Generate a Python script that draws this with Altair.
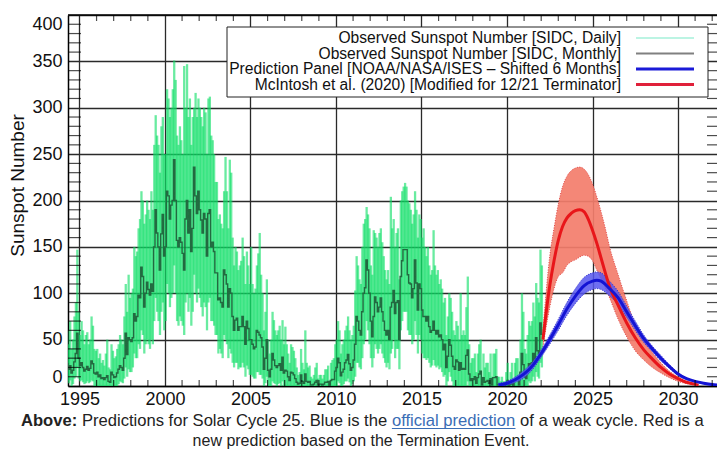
import altair as alt
import pandas as pd

FONT = "Liberation Sans, Arial, Helvetica, sans-serif"

# ---------------- observed data (monthly, starting 1994-04) ----------------
START_YEAR, START_MONTH = 1994, 4

MONTHLY = [
    24, 18, 22, 14, 17, 26, 35, 57, 30,                      # 1994 Apr-Dec
    22, 25, 20, 16, 18, 21, 17, 19, 27, 24, 14, 13,          # 1995
    15, 10, 12, 8, 9, 7, 9, 11, 5, 4, 15, 12,                # 1996
    9, 10, 14, 18, 22, 20, 17, 30, 57, 34, 52, 50,           # 1997
    48, 52, 78, 70, 75, 98, 95, 128, 118, 85, 100, 112,      # 1998
    104, 98, 110, 102, 150, 190, 165, 150, 125, 164, 185, 140,  # 1999
    150, 210, 205, 180, 195, 200, 244, 200, 157, 150, 160, 155,  # 2000
    143, 125, 180, 200, 165, 190, 145, 170, 236, 205, 186, 210,  # 2001
    190, 179, 165, 186, 180, 140, 186, 190, 150, 155, 145, 122,  # 2002
    122, 93, 95, 90, 85, 125, 120, 110, 85, 105, 100, 75,    # 2003
    60, 71, 73, 60, 64, 64, 75, 64, 45, 70, 62, 50,          # 2004
    50, 45, 40, 42, 60, 58, 55, 52, 42, 18, 30, 50,          # 2005
    17, 10, 18, 35, 28, 22, 20, 22, 24, 17, 31, 14,          # 2006
    17, 16, 10, 6, 15, 14, 12, 8, 4, 2, 3, 12,               # 2007
    5, 3, 13, 5, 4, 5, 1, 1, 2, 4, 6, 1,                     # 2008
    2, 2, 1, 2, 4, 4, 5, 0, 6, 7, 7, 16,                     # 2009
    20, 30, 25, 11, 15, 18, 25, 28, 34, 24, 17, 20,          # 2010
    28, 45, 75, 70, 60, 55, 80, 100, 106, 136, 125, 100,     # 2011
    70, 53, 75, 96, 90, 80, 85, 95, 80, 70, 60, 55,          # 2012
    60, 50, 85, 90, 103, 78, 90, 92, 50, 118, 135, 147,      # 2013
    147, 147, 120, 111, 110, 95, 105, 136, 111, 82, 110, 105,  # 2014
    82, 75, 75, 70, 75, 64, 58, 60, 70, 60, 56, 60,          # 2015
    53, 55, 50, 39, 45, 20, 32, 50, 44, 32, 21, 18,          # 2016
    28, 26, 17, 25, 18, 19, 18, 33, 39, 13, 6, 8,            # 2017
    7, 10, 3, 9, 13, 16, 1, 9, 4, 5, 6, 3,                   # 2018
    8, 1, 9, 9, 10, 1, 1, 0, 1, 0, 0, 2,                     # 2019
    6, 0, 2, 5, 0, 6, 7, 8, 1, 15, 35, 23,                   # 2020
    10, 8, 17, 24, 21, 25, 35, 24, 52, 38, 35, 68,           # 2021
    55,                                                      # 2022 Jan
]

DAILY_MAX = [
    60, 45, 70, 40, 50, 75, 90, 147, 80,
    55, 70, 60, 45, 55, 58, 45, 50, 75, 65, 40, 38,
    40, 30, 35, 25, 28, 22, 35, 50, 20, 18, 45, 38,
    30, 32, 40, 45, 55, 50, 45, 75, 110, 80, 120, 95,
    100, 105, 150, 140, 145, 170, 180, 210, 200, 175, 185, 200,
    190, 180, 210, 190, 260, 292, 270, 260, 230, 280, 290, 250,
    250, 320, 310, 290, 300, 320, 351, 330, 270, 260, 280, 265,
    250, 345, 300, 347, 290, 310, 260, 290, 300, 316, 290, 310,
    300, 290, 280, 300, 295, 250, 310, 312, 270, 265, 250, 220,
    220, 180, 185, 175, 170, 210, 247, 210, 170, 244, 230, 160,
    130, 150, 145, 125, 130, 135, 160, 140, 110, 145, 130, 110,
    150, 110, 100, 105, 130, 143, 165, 120, 100, 60, 80, 115,
    50, 35, 50, 80, 71, 60, 55, 60, 65, 50, 71, 45,
    64, 45, 35, 25, 45, 42, 38, 30, 20, 12, 15, 40,
    25, 18, 60, 25, 20, 22, 10, 8, 12, 20, 25, 8,
    12, 12, 8, 12, 18, 18, 22, 5, 25, 28, 30, 45,
    50, 70, 60, 35, 45, 50, 60, 65, 75, 60, 50, 55,
    65, 103, 140, 130, 115, 110, 150, 175, 180, 193, 185, 170,
    130, 120, 168, 165, 160, 150, 165, 170, 155, 140, 125, 115,
    125, 110, 204, 170, 180, 150, 165, 170, 115, 200, 210, 215,
    219, 215, 200, 197, 190, 175, 185, 210, 190, 160, 185, 180,
    160, 170, 150, 140, 150, 130, 120, 125, 168, 130, 120, 125,
    110, 115, 105, 90, 95, 55, 75, 100, 95, 80, 60, 55,
    70, 65, 50, 100, 55, 60, 55, 85, 118, 45, 25, 30,
    30, 35, 15, 35, 45, 50, 10, 35, 20, 25, 25, 15,
    35, 10, 35, 35, 40, 10, 10, 5, 10, 5, 5, 15,
    25, 5, 15, 25, 5, 25, 30, 30, 12, 50, 100, 80,
    40, 35, 55, 70, 65, 70, 90, 75, 111, 95, 90, 147,
    130,
]

DAILY_MIN = [
    5, 3, 6, 0, 2, 8, 10, 20, 8,
    5, 6, 4, 2, 3, 5, 3, 4, 6, 5, 0, 0,
    0, 0, 0, 0, 0, 0, 0, 0, 0, 0, 0, 0,
    0, 0, 0, 2, 5, 4, 3, 8, 20, 10, 18, 15,
    15, 20, 35, 30, 30, 45, 40, 60, 55, 35, 45, 50,
    45, 40, 50, 45, 70, 95, 80, 70, 55, 80, 90, 60,
    70, 110, 100, 85, 95, 100, 130, 100, 70, 65, 75, 70,
    65, 55, 90, 100, 80, 95, 65, 80, 120, 100, 90, 105,
    95, 85, 75, 90, 85, 60, 90, 95, 70, 70, 65, 55,
    55, 35, 40, 35, 30, 55, 50, 45, 30, 40, 35, 25,
    20, 25, 25, 18, 20, 20, 25, 20, 10, 22, 18, 12,
    12, 10, 8, 8, 15, 15, 12, 12, 8, 0, 3, 10,
    0, 0, 0, 5, 3, 2, 0, 2, 3, 0, 5, 0,
    0, 0, 0, 0, 0, 0, 0, 0, 0, 0, 0, 0,
    0, 0, 0, 0, 0, 0, 0, 0, 0, 0, 0, 0,
    0, 0, 0, 0, 0, 0, 0, 0, 0, 0, 0, 0,
    0, 5, 3, 0, 0, 2, 5, 5, 8, 4, 0, 2,
    5, 10, 25, 25, 20, 18, 30, 45, 50, 70, 60, 45,
    30, 20, 30, 45, 40, 35, 40, 45, 35, 30, 25, 20,
    25, 18, 35, 40, 50, 30, 40, 40, 18, 60, 70, 80,
    80, 80, 60, 55, 55, 45, 50, 70, 55, 35, 55, 50,
    35, 30, 30, 28, 30, 25, 20, 22, 28, 22, 20, 22,
    18, 20, 15, 10, 12, 0, 5, 15, 10, 5, 0, 0,
    0, 0, 0, 0, 0, 0, 0, 0, 5, 0, 0, 0,
    0, 0, 0, 0, 0, 0, 0, 0, 0, 0, 0, 0,
    0, 0, 0, 0, 0, 0, 0, 0, 0, 0, 0, 0,
    0, 0, 0, 0, 0, 0, 0, 0, 0, 0, 0, 0,
    0, 0, 0, 5, 3, 5, 10, 5, 15, 10, 8, 25,
    20,
]

# ---------------- predictions ----------------
BLUE_T = [2019.5, 2020.0, 2020.5, 2021.0, 2021.5, 2022.0, 2022.5, 2023.0, 2023.5,
          2024.0, 2024.5, 2025.0, 2025.25, 2025.5, 2026.0, 2026.5, 2027.0, 2027.5,
          2028.0, 2028.5, 2029.0, 2029.5, 2030.0, 2030.5, 2031.0, 2031.5, 2032.0, 2032.5]
BLUE_V = [1, 3, 7, 13, 22, 35, 50, 66, 83, 97, 108, 113, 114, 113, 105, 95, 80, 65,
          51, 40, 30, 21, 13, 8, 5, 3, 1.5, 0.8]
BLUE_LO = [0, 1, 4, 9, 18, 31, 45, 60, 76, 89, 99, 104, 105, 104, 97, 88, 74, 60,
           47, 37, 27, 19, 11.5, 7, 4.5, 2.6, 1.3, 0.7]
BLUE_HI = [3, 5, 10, 17, 26, 39, 55, 72, 90, 105, 117, 122, 123, 122, 113, 102, 86, 70,
           55, 43, 33, 23, 14.5, 9, 5.5, 3.4, 1.7, 0.9]

RED_T = [2022.1, 2022.5, 2022.75, 2023.0, 2023.25, 2023.5, 2023.75, 2024.0, 2024.25,
         2024.5, 2024.75, 2025.0, 2025.25, 2025.5, 2025.75, 2026.0, 2026.5, 2027.0,
         2027.5, 2028.0, 2028.5, 2029.0, 2029.5, 2030.0, 2030.5, 2031.0, 2031.2]
RED_V = [50, 108, 135, 157, 172, 181, 186, 189, 190, 188, 180, 168, 154, 138, 122,
         107, 87, 68, 52, 39, 29, 20, 13, 8, 4, 2, 1]
RED_LO = [42, 85, 105, 118, 122, 130, 134, 136, 139, 141, 140, 135, 125, 115, 106,
          95, 72, 53, 38, 28, 20, 14, 9, 5, 2.5, 1.2, 0.6]
RED_HI = [60, 140, 170, 196, 215, 226, 232, 235, 236, 234, 228, 218, 204, 188, 170,
          150, 120, 92, 66, 49, 36, 25, 16, 10, 5, 2.5, 1.3]

X_TICKS = [1995, 2000, 2005, 2010, 2015, 2020, 2025, 2030]
Y_TICKS = [0, 50, 100, 150, 200, 250, 300, 350, 400]
X_MINOR = [y for y in range(1995, 2033) if y % 5 != 0]
Y_MINOR = [v for v in range(10, 400, 10) if v % 50 != 0]

LEGEND_LABELS = [
    "Observed Sunspot Number [SIDC, Daily]",
    "Observed Sunspot Number [SIDC, Monthly]",
    "Prediction Panel [NOAA/NASA/ISES \u2013 Shifted 6 Months]",
    "McIntosh et al. (2020) [Modified for 12/21 Terminator]",
]
LEGEND_COLORS = ["#a6f0da", "#808080", "#1a1ad8", "#e0203a"]
LEGEND_WIDTHS = [1.5, 2, 3, 3]

CAPTION_1 = ["Above:", "Predictions for Solar Cycle 25. Blue is the",
             "official prediction", "of a weak cycle. Red is a"]
CAPTION_2 = "new prediction based on the Termination Event."

# ---------------- layout ----------------
W, H = 649, 371

n = len(MONTHLY)
t_start = [START_YEAR + (START_MONTH - 1 + i) / 12 for i in range(n)]
obs = pd.DataFrame({
    "t": t_start,
    "tm": [s + 1 / 24 for s in t_start],
    "v": MONTHLY, "lo": DAILY_MIN, "hi": DAILY_MAX,
})
blue = pd.DataFrame({"t": BLUE_T, "v": BLUE_V, "lo": BLUE_LO, "hi": BLUE_HI})
red = pd.DataFrame({"t": RED_T, "v": RED_V, "lo": RED_LO, "hi": RED_HI})
xminor = pd.DataFrame({"t": X_MINOR})
yminor = pd.DataFrame({"v": Y_MINOR})
one = pd.DataFrame({"a": [0]})

xs = alt.Scale(domain=[1994.33, 2032.28], nice=False, zero=False)
ys = alt.Scale(domain=[0, 400], nice=False, zero=False)

xaxis = alt.Axis(values=X_TICKS, format="d", title=None, grid=True, gridColor="#2a2a2a",
                 gridWidth=1.3, ticks=False, labelPadding=4, labelFontSize=18,
                 labelFont=FONT, labelColor="#111", domainColor="#000", domainWidth=1.5,
                 labelFlush=False, labelOverlap=False)
yaxis = alt.Axis(values=Y_TICKS, title="Sunspot Number", grid=True, gridColor="#2a2a2a",
                 gridWidth=1.3, ticks=False, labelPadding=6, labelFontSize=18,
                 labelFont=FONT, labelColor="#111", domainColor="#000", domainWidth=1.5,
                 labelFlush=True, labelOverlap=False, titleFont=FONT, titleFontSize=19,
                 titleFontWeight="normal", titleColor="#111", titleX=-41, titleY=170,
                 titleBaseline="bottom")

X = lambda f: alt.X(f, type="quantitative", scale=xs, axis=xaxis)
Y = lambda f: alt.Y(f, type="quantitative", scale=ys, axis=yaxis)

layers = []

# daily spikes
layers.append(alt.Chart(obs).mark_rule(color="#0ddf66", strokeWidth=2.3, opacity=0.62,
                                       clip=True)
              .encode(x=X("tm"), y=Y("lo"), y2="hi"))
# monthly
layers.append(alt.Chart(obs).mark_line(color="#226a40", strokeWidth=1.4,
                                       interpolate="step-after", clip=True)
              .encode(x=X("t"), y=Y("v")))
# red band
layers.append(alt.Chart(red).mark_area(color="#f37d6b", opacity=0.92, interpolate="monotone",
                                       clip=True)
              .encode(x=X("t"), y=Y("lo"), y2="hi"))
for f in ["lo", "hi"]:
    layers.append(alt.Chart(red).mark_line(color="#e04848", strokeWidth=1, strokeDash=[1, 1.5],
                                           interpolate="monotone", clip=True)
                  .encode(x=X("t"), y=Y(f)))
# blue band
layers.append(alt.Chart(blue).mark_area(color="#5656ee", opacity=0.85, interpolate="monotone",
                                        clip=True)
              .encode(x=X("t"), y=Y("lo"), y2="hi"))
for f in ["lo", "hi"]:
    layers.append(alt.Chart(blue).mark_line(color="#3030c8", strokeWidth=1, strokeDash=[1, 1.5],
                                            interpolate="monotone", clip=True)
                  .encode(x=X("t"), y=Y(f)))
# prediction lines
layers.append(alt.Chart(red).mark_line(color="#e8161a", strokeWidth=3, interpolate="monotone",
                                       clip=True)
              .encode(x=X("t"), y=Y("v")))
layers.append(alt.Chart(blue).mark_line(color="#1414d4", strokeWidth=3, interpolate="monotone",
                                        clip=True)
              .encode(x=X("t"), y=Y("v")))

# minor ticks
layers.append(alt.Chart(xminor).mark_tick(orient="vertical", size=6, thickness=1.2, color="#000")
              .encode(x=X("t"), y=alt.value(3)))
layers.append(alt.Chart(xminor).mark_tick(orient="vertical", size=6, thickness=1.2, color="#000")
              .encode(x=X("t"), y=alt.value(H - 3)))
layers.append(alt.Chart(yminor).mark_tick(orient="horizontal", size=13, thickness=1.2, color="#000")
              .encode(y=Y("v"), x=alt.value(6.5)))
layers.append(alt.Chart(yminor).mark_tick(orient="horizontal", size=10, thickness=1.2, color="#000")
              .encode(y=Y("v"), x=alt.value(W - 5)))
# top frame
layers.append(alt.Chart(one).mark_rule(color="#000", strokeWidth=1.5)
              .encode(x=alt.value(0), x2=alt.value(W), y=alt.value(0)))

# legend
LX1, LX2, LY1, LY2 = 159, 640, 12, 82
layers.append(alt.Chart(one).mark_rect(fill="white", stroke="#222", strokeWidth=1)
              .encode(x=alt.value(LX1), x2=alt.value(LX2), y=alt.value(LY1), y2=alt.value(LY2)))
ROW_Y = [23, 38.5, 54, 69.5]
for lab, col, lw, ry in zip(LEGEND_LABELS, LEGEND_COLORS, LEGEND_WIDTHS, ROW_Y):
    layers.append(alt.Chart(one).mark_text(align="right", baseline="middle", font=FONT,
                                           fontSize=15.6, color="#111")
                  .encode(x=alt.value(553), y=alt.value(ry), text=alt.value(lab)))
    layers.append(alt.Chart(one).mark_rule(color=col, strokeWidth=lw)
                  .encode(x=alt.value(568), x2=alt.value(626), y=alt.value(ry)))

# caption
CAP_X = [-47, 13.9, 323.9, 452.1]
CAP_W = ["bold", "normal", "normal", "normal"]
CAP_C = ["#222", "#222", "#3a6db5", "#222"]
for txt, cx, fw, cc in zip(CAPTION_1, CAP_X, CAP_W, CAP_C):
    layers.append(alt.Chart(one).mark_text(align="left", baseline="middle", font=FONT,
                                           fontSize=16.6, fontWeight=fw, color=cc)
                  .encode(x=alt.value(cx), y=alt.value(406), text=alt.value(txt)))
layers.append(alt.Chart(one).mark_rule(color="#3a6db5", strokeWidth=1)
              .encode(x=alt.value(323.9), x2=alt.value(447.5), y=alt.value(413.5)))
layers.append(alt.Chart(one).mark_text(align="center", baseline="middle", font=FONT,
                                       fontSize=16, color="#222")
              .encode(x=alt.value(293), y=alt.value(426), text=alt.value(CAPTION_2)))

chart = alt.layer(*layers).properties(
    width=W, height=H,
    autosize=alt.AutoSizeParams(type="none"),
    padding={"left": 60, "top": 7, "right": 0, "bottom": 63},
    background="white",
).configure_view(stroke=None)

chart.save("out.html", embed_options={"renderer": "svg", "actions": False})
